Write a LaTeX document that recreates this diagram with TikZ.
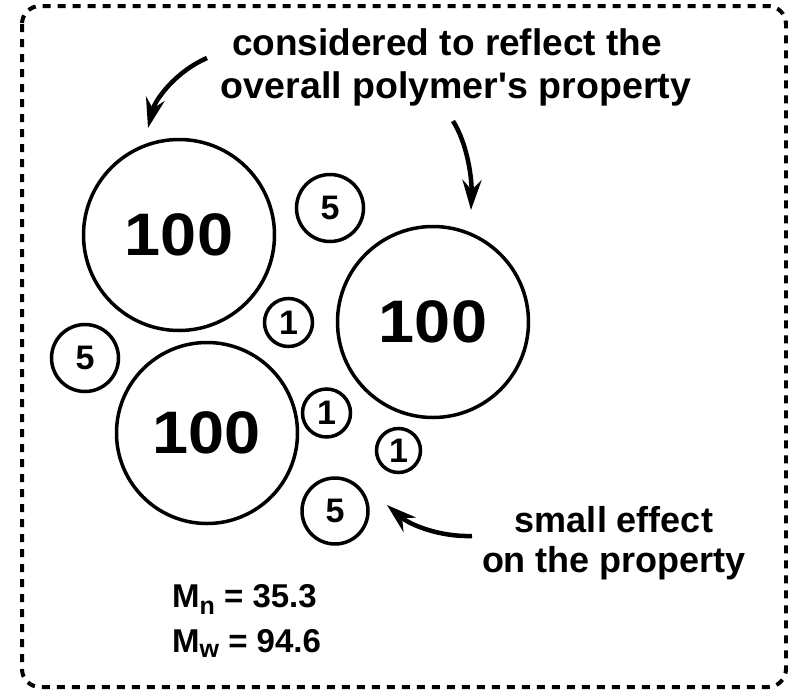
\documentclass[tikz,border=0pt]{standalone}
\usepackage{fontspec}
\setmainfont{Liberation Sans}[Ligatures=TeXOff]
\usetikzlibrary{arrows.meta}
\tikzset{
  x=1pt, y=-1pt,
  ring/.style={circle, draw, line width=3.5pt, inner sep=0pt},
  bigring/.style={ring, font=\fontsize{60}{60}\selectfont\bfseries},
  smallring/.style={ring, font=\fontsize{34}{34}\selectfont\bfseries},
  label/.style={font=\fontsize{37}{37}\selectfont\bfseries, inner sep=0pt, anchor=base},
  pointer/.style={line width=4.5pt, -{Stealth[length=30pt, width=19pt, inset=10pt]}},
  frame/.style={line width=4pt, dash pattern=on 8pt off 7pt, rounded corners=18pt}
}
\begin{document}
\begin{tikzpicture}
\useasboundingbox (0,0) rectangle (788,689);
\draw[frame] (22,6) rectangle (786,687);

\node[bigring, minimum size=191pt] (b1) at (179,235) {\scalebox{1.08}[1]{100}};
\node[bigring, minimum size=191pt] (b2) at (433,322) {\scalebox{1.08}[1]{100}};
\node[bigring, minimum size=181pt] (b3) at (207,433) {\scalebox{1.08}[1]{100}};

\node[smallring, minimum size=67pt] (f1) at (330,208) {5};
\node[smallring, minimum size=67pt] (f2) at (85,358) {5};
\node[smallring, minimum size=66pt] (f3) at (335,511) {5};

\node[smallring, minimum size=48pt] (o1) at (288.5,322.5) {1};
\node[smallring, minimum size=48pt] (o2) at (326.5,413) {1};
\node[smallring, minimum size=44pt] (o3) at (398.5,450.5) {1};

\node[label] (t1) at (447,55) {considered to reflect the};
\node[label] (t2) at (456,98) {\scalebox{1.015}[1]{overall polymer's property}};

\node[label, font=\fontsize{36}{36}\selectfont\bfseries] (s1) at (614,532) {small effect};
\node[label, font=\fontsize{36}{36}\selectfont\bfseries] (s2) at (614,572) {on the property};

\node[label, anchor=base west, font=\fontsize{33}{33}\selectfont\bfseries] (mn) at (172,607)
  {M\raisebox{-7pt}{\fontsize{25}{25}\selectfont n} = 35.3};
\node[label, anchor=base west, font=\fontsize{33}{33}\selectfont\bfseries] (mw) at (172,652)
  {M\raisebox{-5pt}{\fontsize{25}{25}\selectfont w} = 94.6};

\coordinate (a1s) at (207,58);
\coordinate (a1e) at (148,128);
\coordinate (a2s) at (453,121);
\coordinate (a2e) at (471,210);
\coordinate (a3s) at (472,536);
\coordinate (a3e) at (387,505);
\draw[pointer] (a1s) .. controls (175,72) and (155,100) .. (a1e);
\draw[pointer] (a2s) .. controls (468,145) and (472,180) .. (a2e);
\draw[pointer] (a3s) .. controls (440,537) and (410,525) .. (a3e);
\end{tikzpicture}
\end{document}
